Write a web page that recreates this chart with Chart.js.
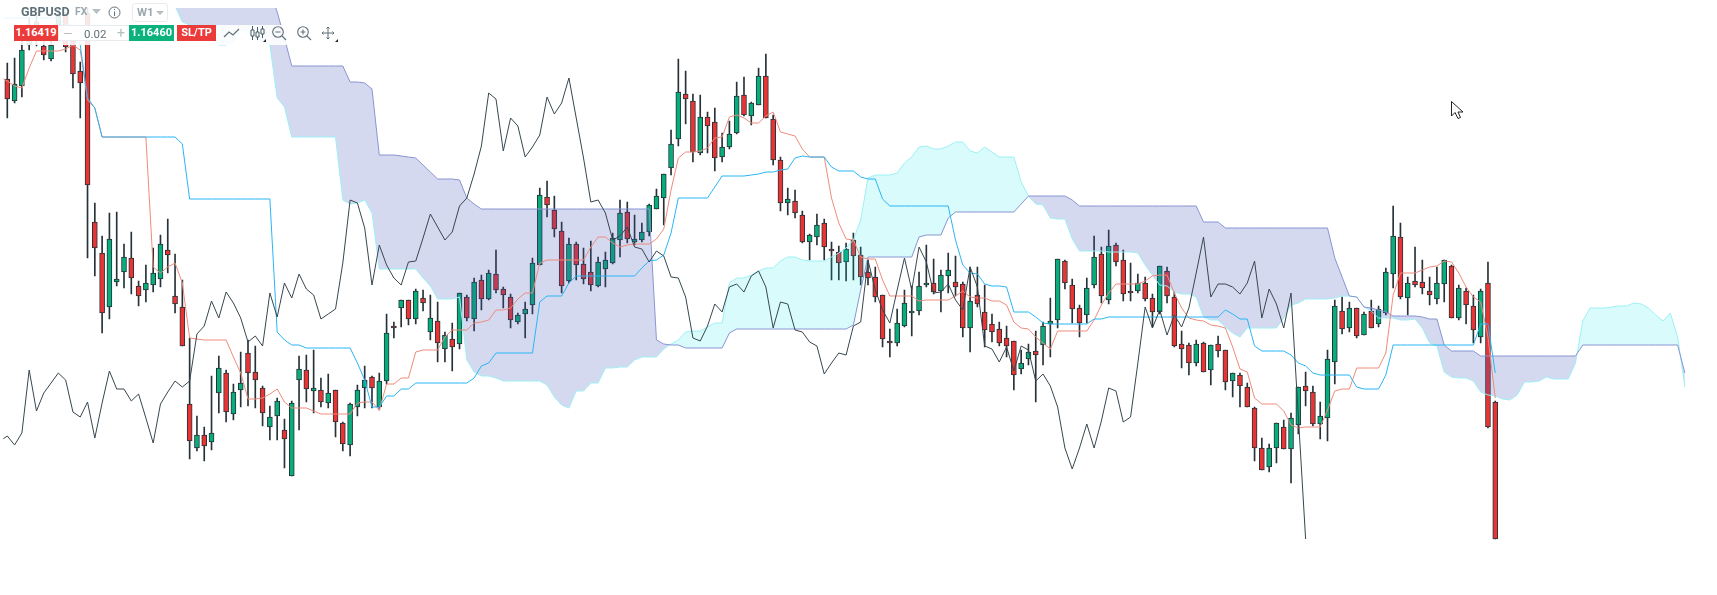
<!DOCTYPE html>
<html>
<head>
<meta charset="utf-8">
<title>GBPUSD W1</title>
<script src="https://cdn.jsdelivr.net/npm/chart.js@4"></script>
<style>
  html, body { margin: 0; padding: 0; background: #fff; overflow: hidden; font-family: Roboto, sans-serif; }
  #wrap { position: relative; width: 1717px; height: 595px; }
  canvas { position: absolute; left: 0; top: 0; }
  .veil { position: absolute; background: rgba(255,255,255,0.88); }
  .t { position: absolute; line-height: 16px; white-space: nowrap; }
  .btn { position: absolute; top: 25px; height: 16px; line-height: 16px; color: #fff; font-weight: 700; font-size: 11px; text-align: center; }
  svg { position: absolute; overflow: visible; }
</style>
</head>
<body>
<div id="wrap">
  <canvas id="chart" width="1717" height="595"></canvas>

  <div class="veil" style="left:0;top:0;width:172px;height:25px"></div>
  <div class="veil" style="left:0;top:25px;width:340px;height:20px"></div>

  <div class="t" style="left:21px;top:4px;font-size:12.5px;font-weight:700;color:#607078">GBPUSD</div>
  <div class="t" style="left:75px;top:4px;font-size:10.5px;font-weight:700;color:#9aa8af">FX</div>
  <svg style="left:92px;top:9px" width="9" height="5"><path d="M0 0H9L4.5 5Z" fill="#b4bec3"/></svg>
  <svg style="left:108px;top:6px" width="13" height="13" fill="none" stroke="#607078"><circle cx="6.5" cy="6.5" r="5.5"/><path d="M6.5 5.5V10M6.5 3V4"/></svg>
  <div style="position:absolute;left:132px;top:3px;width:34px;height:17px;border:1px solid #e8ecee;border-radius:3px"></div>
  <div class="t" style="left:137px;top:4px;font-size:11.5px;font-weight:700;color:#9aa8af">W1</div>
  <svg style="left:156px;top:11px" width="8" height="4"><path d="M0 0H8L4 4Z" fill="#b4bec3"/></svg>

  <div class="btn" style="left:14px;width:44px;background:#ea3a3a">1.16419</div>
  <div style="position:absolute;left:58px;top:25px;width:71px;height:14px;border:1px solid #e8ecee;background:#fff"></div>
  <div class="t" style="left:63px;top:26px;font-size:12px;color:#b4bec3">—</div>
  <div class="t" style="left:84px;top:26px;font-size:11.5px;color:#607078">0.02</div>
  <div class="t" style="left:117px;top:25px;font-size:14px;color:#b4bec3">+</div>
  <div class="btn" style="left:129px;width:45px;background:#0cb27c">1.16460</div>
  <div class="btn" style="left:177px;width:39px;background:#ea3a3a">SL/TP</div>

  <svg style="left:224px;top:28px" width="16" height="10" fill="none" stroke="#607078" stroke-width="1.2"><path d="M0 9L5 4L9 7L15 1"/></svg>
  <svg style="left:250px;top:26px" width="15" height="15" fill="none" stroke="#455a64"><path d="M2.5 0V14M7.5 1V14M12.5 0V12"/><path d="M1 4H4V10H1ZM6 6H9V11H6ZM11 3H14V8H11Z" fill="#fff"/></svg>
  <svg style="left:263px;top:39px" width="3" height="3"><path d="M3 0V3H0Z" fill="#222"/></svg>
  <svg style="left:272px;top:26px" width="15" height="15" fill="none" stroke="#607078" stroke-width="1.1"><circle cx="6" cy="6" r="5.3"/><path d="M3.5 6H8.5M10 10L14 14"/></svg>
  <svg style="left:297px;top:26px" width="15" height="15" fill="none" stroke="#607078" stroke-width="1.1"><circle cx="6" cy="6" r="5.3"/><path d="M3.5 6H8.5M6 3.5V8.5M10 10L14 14"/></svg>
  <svg style="left:321px;top:26px" width="14" height="14" fill="none" stroke="#607078"><path d="M7 1V13M1 7H13M5.5 2.5L7 1L8.5 2.5M5.5 11.5L7 13L8.5 11.5M2.5 5.5L1 7L2.5 8.5M11.5 5.5L13 7L11.5 8.5"/></svg>
  <svg style="left:335px;top:39px" width="3" height="3"><path d="M3 0V3H0Z" fill="#222"/></svg>

  <svg style="left:1451px;top:101px" width="13" height="19"><path d="M0.5 0.5V15L4 11.5L7 17.5L9.5 16.5L7 11H12Z" fill="#fff" stroke="#222"/></svg>
</div>

<script>
// weekly candles, index 0 is the oldest visible bar
const opens = [
  1.3942,1.3832,1.3907,1.4112,1.4137,1.4107,1.4042,1.4212,1.4262,1.4167,
  1.3982,1.4272,1.3227,1.3072,1.2802,1.2927,1.2977,1.3047,1.2907,1.2887,
  1.2912,1.2942,1.3087,1.2857,1.2802,1.2317,1.2097,1.2162,1.2127,1.2372,
  1.2472,1.2267,1.2387,1.2572,1.2477,1.2397,1.2202,1.2257,1.2187,1.1957,
  1.2437,1.2487,1.2382,1.2387,1.2322,1.2387,1.2222,1.2112,1.2302,1.2397,
  1.2452,1.2302,1.2432,1.2707,1.2797,1.2837,1.2742,1.2847,1.2677,1.2732,
  1.2592,1.2642,1.2617,1.2852,1.2742,1.2937,1.2842,1.2967,1.2892,1.2852,
  1.2727,1.2767,1.2812,1.3012,1.3352,1.3287,1.3182,1.2932,1.3117,1.3017,
  1.2977,1.2907,1.2992,1.3022,1.3137,1.3277,1.3127,1.3137,1.3177,1.3292,
  1.3347,1.3497,1.3642,1.3867,1.3832,1.3572,1.3752,1.3727,1.3552,1.3602,
  1.3672,1.3862,1.3757,1.3812,1.3957,1.3742,1.3537,1.3322,1.3332,1.3262,
  1.3127,1.3152,1.3222,1.3092,1.3077,1.3027,1.3137,1.3062,1.2977,1.2952,
  1.2862,1.2632,1.2622,1.2707,1.2772,1.2782,1.2912,1.2922,1.2882,1.2957,
  1.2927,1.2917,1.2697,1.2862,1.2777,1.2717,1.2692,1.2647,1.2632,1.2492,
  1.2542,1.2582,1.2612,1.2717,1.2737,1.3032,1.2912,1.2797,1.2762,1.2912,
  1.3067,1.2837,1.3112,1.3037,1.2882,1.2882,1.2922,1.2847,1.2777,1.2982,
  1.2852,1.2617,1.2612,1.2522,1.2622,1.2487,1.2617,1.2587,1.2432,1.2462,
  1.2402,1.2297,1.2097,1.2002,1.2097,1.2202,1.2092,1.2212,1.2407,1.2377,
  1.2217,1.2247,1.2527,1.2782,1.2697,1.2797,1.2662,1.2782,1.2717,1.2772,
  1.2967,1.3152,1.2847,1.2932,1.2927,1.2882,1.2842,1.2917,1.3007,1.2747,
  1.2882,1.2807,1.2652,1.2922,1.2327
];
const closes = [
  1.3842,1.3917,1.4087,1.4187,1.4227,1.4062,1.4112,1.4257,1.4102,1.3967,
  1.3922,1.3412,1.3097,1.2772,1.3142,1.2942,1.3052,1.2947,1.2857,1.2922,
  1.2972,1.3117,1.3062,1.2817,1.2607,1.2132,1.2162,1.2107,1.2172,1.2497,
  1.2277,1.2377,1.2422,1.2472,1.2437,1.2272,1.2252,1.2332,1.2142,1.2322,
  1.2492,1.2392,1.2397,1.2327,1.2372,1.2227,1.2117,1.2317,1.2387,1.2437,
  1.2397,1.2432,1.2672,1.2697,1.2837,1.2742,1.2882,1.2822,1.2747,1.2622,
  1.2662,1.2602,1.2872,1.2747,1.2927,1.2842,1.2972,1.2887,1.2862,1.2737,
  1.2762,1.2792,1.3022,1.3362,1.3312,1.3192,1.2907,1.3117,1.3012,1.2942,
  1.2912,1.3027,1.3037,1.3147,1.3272,1.3142,1.3142,1.3177,1.3312,1.3357,
  1.3467,1.3617,1.3877,1.3842,1.3577,1.3752,1.3707,1.3547,1.3602,1.3667,
  1.3857,1.3762,1.3822,1.3957,1.3747,1.3537,1.3322,1.3342,1.3272,1.3127,
  1.3162,1.3212,1.3102,1.3082,1.3022,1.3092,1.3057,1.2952,1.2947,1.2852,
  1.2642,1.2622,1.2722,1.2822,1.2782,1.2907,1.2922,1.2877,1.2962,1.2987,
  1.2902,1.2697,1.2832,1.2817,1.2687,1.2677,1.2622,1.2607,1.2462,1.2522,
  1.2577,1.2562,1.2707,1.2732,1.3042,1.2922,1.2792,1.2722,1.2897,1.3052,
  1.2857,1.3107,1.3027,1.2867,1.2872,1.2922,1.2842,1.2777,1.3007,1.2857,
  1.2607,1.2592,1.2522,1.2617,1.2477,1.2612,1.2582,1.2427,1.2472,1.2407,
  1.2302,1.2097,1.1987,1.2097,1.2222,1.2092,1.2247,1.2402,1.2382,1.2217,
  1.2257,1.2542,1.2807,1.2692,1.2797,1.2657,1.2767,1.2697,1.2792,1.2977,
  1.3157,1.2852,1.2922,1.2912,1.2897,1.2862,1.2922,1.3037,1.2747,1.2897,
  1.2812,1.2687,1.2882,1.2202,1.1642
];
const highs = [
  1.4022,1.4047,1.4147,1.4247,1.4277,1.4137,1.4162,1.4287,1.4277,1.4187,
  1.4027,1.4297,1.3322,1.3157,1.3272,1.3277,1.3117,1.3177,1.2932,1.3012,
  1.3097,1.3162,1.3242,1.3067,1.2937,1.2647,1.2257,1.2202,1.2457,1.2557,
  1.2487,1.2417,1.2577,1.2637,1.2607,1.2407,1.2307,1.2347,1.2242,1.2332,
  1.2557,1.2562,1.2587,1.2447,1.2467,1.2387,1.2227,1.2322,1.2412,1.2507,
  1.2457,1.2472,1.2767,1.2727,1.2837,1.2837,1.2892,1.2887,1.2862,1.2827,
  1.2677,1.2722,1.2872,1.2862,1.2947,1.2962,1.2987,1.3087,1.2902,1.2867,
  1.2772,1.2827,1.3047,1.3397,1.3432,1.3357,1.3227,1.3147,1.3127,1.3097,
  1.3132,1.3052,1.3077,1.3172,1.3337,1.3327,1.3262,1.3222,1.3317,1.3392,
  1.3467,1.3687,1.4042,1.3982,1.3867,1.3862,1.3777,1.3797,1.3672,1.3732,
  1.3927,1.3952,1.3827,1.3997,1.4067,1.3762,1.3552,1.3397,1.3387,1.3282,
  1.3167,1.3267,1.3242,1.3127,1.3107,1.3122,1.3172,1.3102,1.3037,1.3002,
  1.2862,1.2692,1.2792,1.2887,1.2907,1.2977,1.3112,1.3042,1.2987,1.3072,
  1.3057,1.2927,1.3002,1.3002,1.2912,1.2767,1.2727,1.2707,1.2632,1.2587,
  1.2617,1.2682,1.2727,1.2847,1.3042,1.3037,1.2942,1.2812,1.2947,1.3157,
  1.3102,1.3187,1.3122,1.3087,1.3022,1.2967,1.2952,1.2867,1.3007,1.3002,
  1.2877,1.2682,1.2622,1.2637,1.2627,1.2612,1.2657,1.2587,1.2472,1.2472,
  1.2422,1.2302,1.2147,1.2117,1.2222,1.2237,1.2272,1.2402,1.2477,1.2407,
  1.2327,1.2587,1.2837,1.2852,1.2827,1.2797,1.2777,1.2837,1.2807,1.2997,
  1.3307,1.3222,1.2952,1.3102,1.3037,1.2952,1.3002,1.3037,1.3012,1.2912,
  1.2897,1.2862,1.2892,1.3027,1.2332
];
const lows = [
  1.3747,1.3822,1.3852,1.4087,1.4107,1.4037,1.4032,1.4187,1.4077,1.3897,
  1.3747,1.3047,1.2957,1.2672,1.2742,1.2907,1.2897,1.2867,1.2807,1.2827,
  1.2877,1.2902,1.2972,1.2772,1.2607,1.2042,1.2082,1.2032,1.2087,1.2272,
  1.2227,1.2237,1.2302,1.2307,1.2297,1.2207,1.2137,1.2137,1.1997,1.1957,
  1.2187,1.2327,1.2272,1.2302,1.2297,1.2152,1.2082,1.2057,1.2257,1.2297,
  1.2297,1.2287,1.2417,1.2647,1.2702,1.2712,1.2717,1.2782,1.2637,1.2527,
  1.2527,1.2482,1.2592,1.2732,1.2682,1.2787,1.2837,1.2872,1.2797,1.2697,
  1.2717,1.2647,1.2767,1.3012,1.3252,1.3152,1.2872,1.2922,1.2937,1.2917,
  1.2882,1.2902,1.2902,1.3017,1.3052,1.3122,1.3112,1.3127,1.3157,1.3292,
  1.3212,1.3462,1.3607,1.3717,1.3527,1.3562,1.3572,1.3482,1.3527,1.3592,
  1.3667,1.3757,1.3712,1.3812,1.3747,1.3512,1.3282,1.3262,1.3247,1.3122,
  1.3037,1.3112,1.3037,1.2937,1.2937,1.2932,1.2937,1.2912,1.2912,1.2827,
  1.2602,1.2552,1.2607,1.2702,1.2657,1.2762,1.2902,1.2867,1.2777,1.2872,
  1.2857,1.2652,1.2577,1.2802,1.2602,1.2627,1.2607,1.2552,1.2387,1.2467,
  1.2512,1.2327,1.2512,1.2552,1.2697,1.2892,1.2722,1.2652,1.2722,1.2897,
  1.2822,1.2817,1.3007,1.2832,1.2832,1.2872,1.2832,1.2702,1.2767,1.2822,
  1.2602,1.2497,1.2462,1.2507,1.2477,1.2412,1.2552,1.2387,1.2352,1.2302,
  1.2302,1.2032,1.1987,1.1977,1.2022,1.2092,1.1922,1.2167,1.2307,1.2207,
  1.2142,1.2132,1.2417,1.2667,1.2677,1.2647,1.2662,1.2697,1.2702,1.2762,
  1.2897,1.2842,1.2762,1.2902,1.2867,1.2812,1.2817,1.2827,1.2747,1.2737,
  1.2717,1.2622,1.2622,1.2197,1.1642
];

// tenkan and kijun start one bar before the first candle (index -1)
const tenkan = [
  1.3952,1.3932,1.3907,1.3897,1.3997,1.4082,1.4082,1.4082,1.4082,1.4092,1.4112,1.4087,1.3837,1.3797,
  1.3652,1.3652,1.3652,1.3652,1.3652,1.3652,1.3652,1.3002,1.2972,1.3002,1.3022,1.2922,1.2647,1.2642,
  1.2637,1.2637,1.2637,1.2637,1.2552,1.2472,1.2342,1.2342,1.2347,1.2367,1.2392,1.2327,1.2297,1.2297,
  1.2297,1.2282,1.2267,1.2267,1.2267,1.2267,1.2267,1.2322,1.2327,1.2327,1.2287,1.2417,1.2417,1.2447,
  1.2447,1.2577,1.2587,1.2587,1.2587,1.2652,1.2687,1.2687,1.2687,1.2722,1.2727,1.2737,1.2787,1.2787,
  1.2797,1.2842,1.2872,1.2872,1.3022,1.3037,1.3037,1.3037,1.3037,1.3037,1.3037,1.3102,1.3152,1.3152,
  1.3122,1.3102,1.3112,1.3117,1.3117,1.3117,1.3142,1.3192,1.3387,1.3547,1.3577,1.3577,1.3582,1.3597,
  1.3647,1.3652,1.3752,1.3762,1.3747,1.3722,1.3722,1.3757,1.3777,1.3677,1.3667,1.3657,1.3592,1.3552,
  1.3552,1.3552,1.3347,1.3222,1.3142,1.3137,1.3052,1.3042,1.3042,1.2937,1.2857,1.2857,1.2857,1.2857,
  1.2832,1.2837,1.2837,1.2837,1.2837,1.2857,1.2882,1.2852,1.2847,1.2847,1.2832,1.2832,1.2812,1.2727,
  1.2697,1.2692,1.2652,1.2622,1.2592,1.2682,1.2682,1.2682,1.2682,1.2682,1.2737,1.2812,1.2872,1.2917,
  1.2917,1.2917,1.2917,1.2932,1.2957,1.2962,1.2962,1.2872,1.2797,1.2747,1.2737,1.2732,1.2712,1.2707,
  1.2697,1.2602,1.2492,1.2477,1.2347,1.2317,1.2317,1.2317,1.2282,1.2212,1.2197,1.2202,1.2202,1.2202,
  1.2287,1.2382,1.2392,1.2392,1.2497,1.2497,1.2497,1.2497,1.2572,1.2862,1.2972,1.2972,1.2972,1.2987,
  1.3002,1.3007,1.3032,1.3027,1.2972,1.2902,1.2852,1.2827,1.2652,1.2347
];
const kijun = [
  1.4247,1.4247,1.4247,1.4247,1.4247,1.4247,1.4247,1.4247,1.4247,1.4212,1.4212,1.4112,1.3847,1.3797,
  1.3652,1.3652,1.3652,1.3652,1.3652,1.3652,1.3652,1.3652,1.3652,1.3652,1.3652,1.3617,
  1.3342,1.3342,1.3342,1.3342,1.3342,1.3342,1.3342,1.3342,1.3342,1.3342,1.3342,1.3342,
  1.2677,1.2637,1.2612,1.2612,1.2597,1.2597,1.2597,1.2597,1.2597,1.2597,1.2597,1.2522,1.2437,1.2302,
  1.2302,1.2357,1.2357,1.2392,1.2392,1.2422,1.2422,1.2422,1.2422,1.2422,1.2422,1.2422,1.2422,1.2447,
  1.2507,1.2522,1.2572,1.2572,1.2572,1.2572,1.2572,1.2572,1.2827,1.2857,1.2857,1.2857,1.2922,
  1.2957,1.2957,1.2957,1.2957,1.2957,1.2957,1.2957,1.2957,1.2957,1.2997,1.3032,1.3037,1.3062,1.3172,
  1.3347,1.3347,1.3347,1.3347,1.3347,1.3402,1.3457,1.3457,1.3457,1.3457,1.3462,1.3467,1.3477,1.3477,
  1.3487,1.3492,1.3547,1.3557,1.3552,1.3552,1.3552,1.3502,1.3482,1.3482,1.3482,1.3452,1.3442,1.3442,
  1.3342,1.3307,1.3307,1.3307,1.3307,1.3307,1.3307,1.3307,1.3307,1.3307,1.3137,1.3012,1.2972,1.2967,
  1.2917,1.2907,1.2907,1.2902,1.2777,1.2777,1.2777,1.2752,1.2722,1.2717,1.2717,1.2717,1.2717,1.2717,
  1.2717,1.2742,1.2742,1.2752,1.2752,1.2752,1.2752,1.2752,1.2752,1.2752,1.2752,1.2752,1.2752,1.2752,
  1.2752,1.2752,1.2752,1.2752,1.2752,1.2787,1.2767,1.2742,1.2742,1.2607,1.2582,1.2582,1.2582,1.2582,
  1.2562,1.2522,1.2507,1.2472,1.2462,1.2462,1.2462,1.2462,1.2462,1.2402,1.2392,1.2392,1.2392,1.2462,
  1.2612,1.2612,1.2612,1.2612,1.2612,1.2612,1.2612,1.2612,1.2612,1.2612,1.2612,1.2612,1.2717,1.2717,
  1.2472
];

// cloud edges start at bar 20 and run 26 bars past the last candle
const senkouA = [
  1.4837,1.4737,1.4537,1.4307,1.4227,1.4212,1.4212,1.4197,1.4137,1.4112,1.4112,1.4127,1.4187,1.4172,
  1.4147,1.4127,1.4112,1.3847,1.3802,1.3652,1.3652,1.3652,1.3652,1.3652,1.3652,1.3652,1.3337,1.3317,
  1.3322,1.3337,1.3272,1.2992,1.2992,1.2992,1.2992,1.2992,1.2992,1.2947,1.2907,1.2842,1.2842,1.2842,
  1.2852,1.2537,1.2477,1.2457,1.2457,1.2447,1.2432,1.2432,1.2432,1.2432,1.2432,1.2432,1.2412,1.2352,
  1.2312,1.2297,1.2382,1.2382,1.2422,1.2422,1.2497,1.2497,1.2502,1.2502,1.2537,1.2552,1.2552,1.2552,
  1.2592,1.2617,1.2637,1.2677,1.2682,1.2682,1.2702,1.2722,1.2722,1.2922,1.2947,1.2947,1.2962,1.2982,
  1.2997,1.2997,1.3032,1.3052,1.3052,1.3037,1.3032,1.3032,1.3032,1.3052,1.3072,1.3097,1.3137,1.3237,
  1.3447,1.3462,1.3462,1.3462,1.3472,1.3522,1.3552,1.3602,1.3607,1.3592,1.3592,1.3607,1.3627,1.3627,
  1.3582,1.3572,1.3602,1.3577,1.3552,1.3552,1.3552,1.3427,1.3357,1.3317,1.3312,1.3247,1.3242,1.3242,
  1.3142,1.3082,1.3082,1.3082,1.3082,1.3077,1.3077,1.3077,1.3077,1.3072,1.3012,1.2962,1.2912,1.2907,
  1.2877,1.2867,1.2867,1.2852,1.2752,1.2737,1.2737,1.2702,1.2672,1.2652,1.2697,1.2697,1.2697,1.2697,
  1.2697,1.2747,1.2812,1.2822,1.2842,1.2842,1.2842,1.2842,1.2847,1.2857,1.2857,1.2852,1.2802,1.2782,
  1.2747,1.2747,1.2747,1.2737,1.2737,1.2742,1.2697,1.2622,1.2607,1.2477,1.2452,1.2447,1.2447,1.2432,
  1.2377,1.2362,1.2357,1.2342,1.2337,1.2362,1.2427,1.2427,1.2432,1.2452,1.2442,1.2442,1.2442,1.2522,
  1.2732,1.2797,1.2797,1.2797,1.2802,1.2807,1.2807,1.2822,1.2817,1.2797,1.2762,1.2732,1.2772,1.2652,
  1.2402
];
const senkouB = [
  1.4637,1.4637,1.4637,1.4637,1.4637,1.4637,1.4637,1.4637,1.4637,1.4637,1.4637,1.4637,1.4637,1.4637,
  1.4637,1.4537,1.4387,1.4277,1.4147,1.4007,1.4007,1.4007,1.4007,1.4007,1.4007,1.4007,1.4007,1.3927,
  1.3927,1.3922,1.3892,1.3562,1.3562,1.3562,1.3557,1.3552,1.3547,1.3512,1.3477,1.3442,1.3442,1.3442,
  1.3437,1.3347,1.3317,1.3292,1.3292,1.3292,1.3292,1.3292,1.3292,1.3292,1.3292,1.3292,1.3292,1.3292,
  1.3292,1.3292,1.3292,1.3292,1.3292,1.3292,1.3292,1.3292,1.3292,1.3292,1.3292,1.3292,1.3292,1.2637,
  1.2617,1.2612,1.2612,1.2597,1.2597,1.2597,1.2597,1.2597,1.2597,1.2672,1.2692,1.2692,1.2692,1.2692,
  1.2692,1.2692,1.2692,1.2692,1.2692,1.2692,1.2692,1.2692,1.2692,1.2692,1.2692,1.2692,1.2712,1.2887,
  1.3052,1.3052,1.3052,1.3052,1.3052,1.3052,1.3052,1.3152,1.3162,1.3162,1.3162,1.3247,1.3277,1.3277,
  1.3277,1.3277,1.3277,1.3277,1.3277,1.3277,1.3277,1.3317,1.3357,1.3357,1.3357,1.3357,1.3357,1.3357,
  1.3337,1.3307,1.3307,1.3307,1.3307,1.3307,1.3307,1.3307,1.3307,1.3307,1.3307,1.3307,1.3307,1.3307,
  1.3307,1.3307,1.3307,1.3307,1.3227,1.3227,1.3227,1.3197,1.3197,1.3197,1.3197,1.3197,1.3197,1.3197,
  1.3197,1.3197,1.3197,1.3197,1.3197,1.3197,1.3197,1.3197,1.3047,1.2952,1.2857,1.2852,1.2802,1.2797,
  1.2787,1.2777,1.2757,1.2757,1.2757,1.2757,1.2752,1.2742,1.2742,1.2612,1.2582,1.2582,1.2582,1.2582,
  1.2557,1.2557,1.2557,1.2557,1.2557,1.2557,1.2557,1.2557,1.2557,1.2557,1.2557,1.2557,1.2557,1.2557,
  1.2612,1.2612,1.2612,1.2612,1.2612,1.2612,1.2612,1.2612,1.2612,1.2612,1.2612,1.2612,1.2612,1.2612,
  1.2472
];

// chikou span, shifted back 26 bars, starts at index -1 too
const chikou = [
  1.2132,1.2157,1.2112,1.2172,1.2487,1.2282,1.2372,1.2422,1.2472,1.2437,1.2277,1.2252,1.2327,1.2147,
  1.2322,1.2482,1.2392,1.2392,1.2332,1.2367,1.2247,1.2122,1.2317,1.2377,1.2432,1.2402,1.2432,1.2667,
  1.2707,1.2832,1.2747,1.2877,1.2822,1.2747,1.2627,1.2657,1.2607,1.2872,1.2752,1.2922,1.2847,1.2967,
  1.2892,1.2862,1.2742,1.2767,1.2792,1.3022,1.3337,1.3322,1.3197,1.2912,1.3112,1.3012,1.2947,1.2912,
  1.3027,1.3032,1.3147,1.3267,1.3202,1.3137,1.3177,1.3307,1.3347,1.3467,1.3607,1.3872,1.3842,1.3582,
  1.3747,1.3707,1.3552,1.3602,1.3662,1.3852,1.3767,1.3822,1.3947,1.3747,1.3547,1.3327,1.3337,1.3272,
  1.3137,1.3157,1.3202,1.3102,1.3092,1.3027,1.3082,1.3057,1.2952,1.2947,1.2852,1.2647,1.2632,1.2707,
  1.2817,1.2777,1.2902,1.2917,1.2877,1.2957,1.2982,1.2902,1.2697,1.2827,1.2817,1.2687,1.2677,1.2627,
  1.2607,1.2467,1.2522,1.2572,1.2562,1.2707,1.2727,1.3037,1.2887,1.2787,1.2722,1.2887,1.3047,1.2887,
  1.3102,1.3027,1.2872,1.2877,1.2917,1.2837,1.2787,1.3002,1.2902,1.2607,1.2592,1.2527,1.2602,1.2482,
  1.2607,1.2587,1.2432,1.2467,1.2407,1.2302,1.2097,1.1992,1.2097,1.2217,1.2097,1.2232,1.2397,1.2382,
  1.2227,1.2252,1.2522,1.2802,1.2697,1.2787,1.2662,1.2762,1.2702,1.2797,1.2972,1.3152,1.2852,1.2917,
  1.2917,1.2902,1.2867,1.2922,1.3032,1.2747,1.2892,1.2817,1.2697,1.2872,1.2257,1.1642
];

const upColor = '#07ad7a';
const downColor = '#ea3434';
const edgeColor = '#263238';

const colors = {
  tenkan: '#ee8b7c',
  kijun: '#29b6f6',
  chikou: '#37474f',
  senkouA: '#9cf0f5',
  senkouB: '#8894d2',
  bullCloud: 'rgba(0, 230, 230, 0.15)',
  bearCloud: 'rgba(63, 81, 181, 0.22)'
};

function series(values, firstIndex) {
  return values.map((v, i) => ({ x: firstIndex + i, y: v }));
}

function line(label, values, firstIndex, color, order) {
  return {
    type: 'line',
    label: label,
    data: series(values, firstIndex),
    borderColor: color,
    borderWidth: 1,
    pointRadius: 0,
    tension: 0,
    fill: false,
    order: order
  };
}

const wicks = {
  type: 'bar',
  label: 'High-Low',
  data: opens.map((o, i) => ({ x: i, y: [lows[i], highs[i]] })),
  backgroundColor: edgeColor,
  barThickness: 1,
  grouped: false,
  order: 6
};

const bodies = {
  type: 'bar',
  label: 'GBPUSD',
  data: opens.map((o, i) => ({ x: i, y: [o, closes[i]] })),
  backgroundColor: opens.map((o, i) => closes[i] >= o ? upColor : downColor),
  borderColor: edgeColor,
  borderWidth: 1,
  borderSkipped: false,
  barThickness: 5,
  grouped: false,
  order: 5
};

const spanA = line('Senkou A', senkouA, 20, colors.senkouA, 4);
spanA.fill = { target: 3, above: colors.bullCloud, below: colors.bearCloud };
const spanB = line('Senkou B', senkouB, 20, colors.senkouB, 3);

new Chart(document.getElementById('chart').getContext('2d'), {
  data: {
    datasets: [
      wicks,
      bodies,
      spanA,
      spanB,
      line('Tenkan', tenkan, -1, colors.tenkan, 2),
      line('Kijun', kijun, -1, colors.kijun, 1),
      line('Chikou', chikou, -1, colors.chikou, 0)
    ]
  },
  options: {
    responsive: false,
    animation: false,
    devicePixelRatio: 1,
    layout: { padding: { left: 3.3, top: 8, right: 0, bottom: 0 } },
    plugins: { legend: { display: false }, title: { display: false }, tooltip: { enabled: false } },
    scales: {
      x: { type: 'linear', display: false, offset: false, min: -0.548, max: 234.4 },
      y: { type: 'linear', display: false, min: 1.1362, max: 1.4297 }
    }
  }
});
</script>
</body>
</html>
